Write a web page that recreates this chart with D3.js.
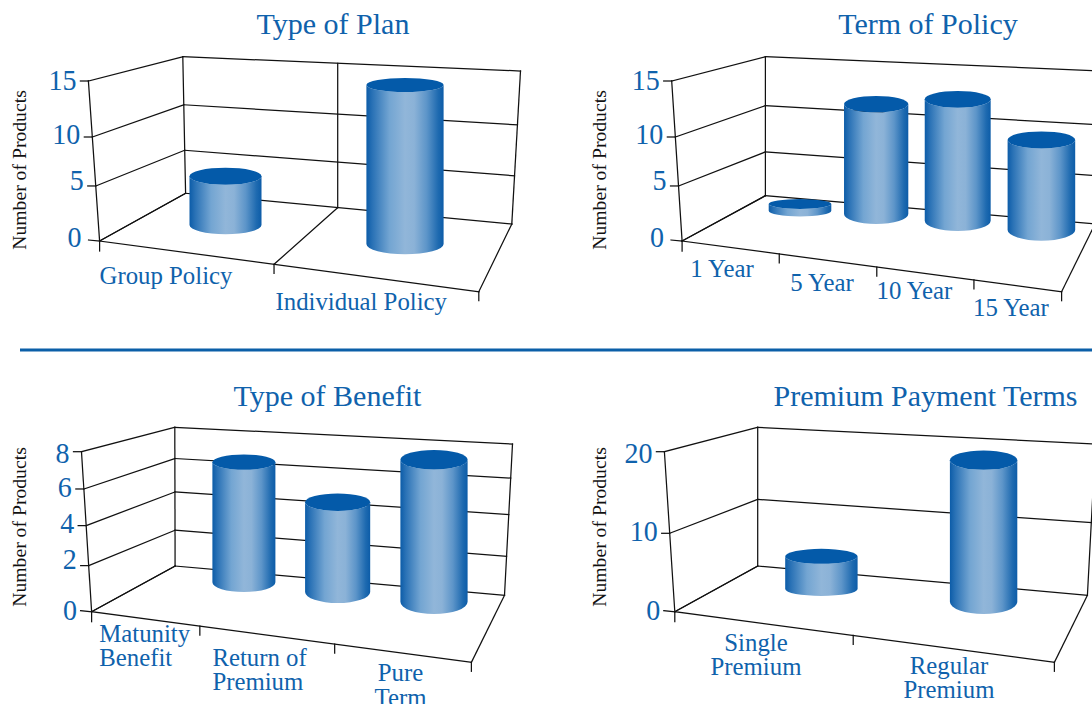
<!DOCTYPE html>
<html>
<head>
<meta charset="utf-8">
<script src="https://cdn.jsdelivr.net/npm/d3@7"></script>
<style>
html,body{margin:0;padding:0;background:#fff;overflow:hidden}
svg{display:block}
text{font-family:"Liberation Serif",serif}
</style>
</head>
<body>
<svg id="chart" width="1092" height="704"></svg>
<script>
// ---- data ----
const planCategories = [["Group Policy"], ["Individual Policy"]];
const planValues = [5, 15];
const planTicks = [0, 5, 10, 15];

const termCategories = [["1 Year"], ["5 Year"], ["10 Year"], ["15 Year"]];
const termValues = [0.7, 11, 12, 9];
const termTicks = [0, 5, 10, 15];

const benefitCategories = [["Matunity", "Benefit"], ["Return of", "Premium"], ["Pure", "Term"]];
const benefitValues = [6, 4.3, 7];
const benefitTicks = [0, 2, 4, 6, 8];

const paymentCategories = [["Single", "Premium"], ["Regular", "Premium"]];
const paymentValues = [4, 18];
const paymentTicks = [0, 10, 20];

const yAxisTitle = "Number of Products";

// ---- layout (projection of each 3-D box, separate from the data) ----
const BLUE = "#0f62ac", CAP = "#045aa9", INK = "#111";
const panels = [
  { title: "Type of Plan", titleX: 333, titleY: 34, categories: planCategories, values: planValues, ticks: planTicks,
    fracs: [0, .315, .648, 1], leftFracs: [0, .344, .65, 1], tickDy: [6, 4.5, 6.5, 9], zeroGap: 18,
    FLT: [88.4, 81], FLB: [99.6, 241], BLT: [182.8, 56.7], BLB: [185.6, 193.3],
    BRT: [520.5, 71], BRB: [511.8, 224], FRB: [478.8, 291.7], floorTicks: [.46], divider: 337.7,
    barX: [225.5, 405], barBase: [225, 244], expX: 1, expY: 1, rx: [36, 38.6], ryBase: [9.3, 10.3], ryTop: [8.5, 7], full: [155, 159],
    labelX: [99.5, 275.5], labelY: [283.5, 309.5], anchor: ["start", "start"], yTitleX: 26, yTitleY: 170 },
  { title: "Term of Policy", titleX: 928, titleY: 34, categories: termCategories, values: termValues, ticks: termTicks,
    fracs: [0, .315, .648, 1], leftFracs: [0, .344, .65, 1], tickDy: [6, 4.5, 6.5, 9], zeroGap: 18,
    FLT: [671.7, 81], FLB: [682.1, 241], BLT: [765.4, 56.7], BLB: [765.4, 195.7],
    BRT: [1103.5, 71], BRB: [1095, 224], FRB: [1061.6, 291.7], floorTicks: [.256, .513, .769],
    barX: [800, 1041.4], barBase: [210.7, 230], expX: 1.05, expY: 1.6, rx: [31.3, 33.8], ryBase: [9.5, 10.7], ryTop: [8, 8.5], full: [152, 155],
    labelX: [722, 822, 914.5, 1011], labelY: [276.5, 291, 298.5, 316], anchor: ["middle", "middle", "middle", "middle"], yTitleX: 606, yTitleY: 170 },
  { title: "Type of Benefit", titleX: 327.5, titleY: 405.5, categories: benefitCategories, values: benefitValues, ticks: benefitTicks,
    fracs: [0, .258, .534, .775, 1], leftFracs: [0, .288, .538, .767, 1], tickDy: [8.5, 3, 7.5, 7.7, 11], zeroGap: 14.5,
    FLT: [81.5, 451.7], FLB: [91.6, 611.7], BLT: [174.8, 427.3], BLB: [175.1, 566],
    BRT: [512.5, 444], BRB: [504.5, 595.3], FRB: [471.4, 662.3], floorTicks: [.285, .64],
    barX: [243.9, 434], barBase: [582.3, 601.7], expX: 1.02, expY: 1, rx: [31.5, 33.6], ryBase: [9.7, 12.3], ryTop: [7.7, 9.7], full: [155, 160],
    labelX: [99.2, 212.4, 400.5], labelY: [641.5, 665.5, 681.2], anchor: ["start", "start", "middle"], yTitleX: 26, yTitleY: 527 },
  { title: "Premium Payment Terms", titleX: 925.5, titleY: 405.5, categories: paymentCategories, values: paymentValues, ticks: paymentTicks,
    fracs: [0, .48, 1], leftFracs: [0, .49, 1], tickDy: [8.5, 8, 11], zeroGap: 14.5,
    FLT: [664.4, 451.7], FLB: [674.8, 611.7], BLT: [757.7, 427.3], BLB: [757.7, 566],
    BRT: [1095.5, 444], BRB: [1087.4, 595.3], FRB: [1054.4, 662.3], floorTicks: [.47],
    barX: [821.4, 983.6], barBase: [589, 601.7], expX: 1, expY: 1, rx: [36.2, 33.7], ryBase: [6.9, 12.3], ryTop: [7.5, 9.7], full: [170, 158],
    labelX: [756, 949], labelY: [650.5, 673.8], anchor: ["middle", "middle"], yTitleX: 606, yTitleY: 527 }
];

// ---- drawing ----
const svg = d3.select("#chart");
const defs = svg.append("defs");
const grad = defs.append("linearGradient").attr("id", "cyl").attr("x1", 0).attr("x2", 1).attr("y1", 0).attr("y2", 0);
[[0, "#0c5ca8"], [.08, "#2a72b6"], [.3, "#73a5d2"], [.5, "#91b6d9"], [.62, "#8bb2d7"], [.78, "#5d95c9"], [.93, "#1e6ab0"], [1, "#0c5ca8"]]
  .forEach(([o, c]) => grad.append("stop").attr("offset", o).attr("stop-color", c));

const lerp = (a, b, t) => [a[0] + (b[0] - a[0]) * t, a[1] + (b[1] - a[1]) * t];
const segment = (g, a, b) => g.append("line")
  .attr("x1", a[0]).attr("y1", a[1]).attr("x2", b[0]).attr("y2", b[1])
  .attr("stroke", INK).attr("stroke-width", 1.25).attr("stroke-linecap", "square");

panels.forEach(p => {
  const g = svg.append("g");
  const yFrac = d3.scaleLinear().domain(p.ticks).range(p.fracs);
  const yLeft = d3.scaleLinear().domain(p.ticks).range(p.leftFracs);

  // walls, grid and ticks
  p.ticks.forEach((v, i) => {
    const t = yFrac(v);
    const fl = lerp(p.FLB, p.FLT, yLeft(v)), bl = lerp(p.BLB, p.BLT, t), br = lerp(p.BRB, p.BRT, t);
    const isZero = v === 0;
    segment(g, [fl[0] - (isZero ? 11 : 8), fl[1] - (isZero ? 1 : 0)], fl);
    segment(g, fl, bl);
    segment(g, bl, br);
    g.append("text").attr("x", fl[0] - (isZero ? p.zeroGap : 12)).attr("y", fl[1] + p.tickDy[i])
      .attr("text-anchor", "end").attr("font-size", 30).attr("fill", BLUE)
      .attr("textLength", String(v).length * 14).attr("lengthAdjust", "spacingAndGlyphs").text(v);
  });
  segment(g, p.FLT, p.FLB);
  segment(g, p.BLT, p.BLB);
  segment(g, p.BRT, p.BRB);
  segment(g, p.FLB, p.BLB);
  segment(g, p.FLB, p.FRB);
  segment(g, p.FRB, p.BRB);
  segment(g, p.FLB, [p.FLB[0], p.FLB[1] + 10]);
  segment(g, p.FRB, [p.FRB[0], p.FRB[1] + 9]);
  p.floorTicks.forEach(f => {
    const pt = lerp(p.FLB, p.FRB, f);
    segment(g, pt, [pt[0], pt[1] + 9]);
    if (p.divider) {
      const backY = p.BLB[1] + (p.BRB[1] - p.BLB[1]) * (p.divider - p.BLB[0]) / (p.BRB[0] - p.BLB[0]);
      const topY = p.BLT[1] + (p.BRT[1] - p.BLT[1]) * (p.divider - p.BLT[0]) / (p.BRT[0] - p.BLT[0]);
      segment(g, pt, [p.divider, backY]);
      segment(g, [p.divider, backY], [p.divider, topY]);
    }
  });

  // cylinders
  const n = p.values.length - 1;
  const sx = d3.scalePow().exponent(p.expX).domain([0, n]).range(p.barX);
  const sb = d3.scalePow().exponent(p.expY).domain([0, n]).range(p.barBase);
  const srx = d3.scaleLinear().domain([0, n]).range(p.rx);
  const sRyB = d3.scaleLinear().domain([0, n]).range(p.ryBase);
  const sRyT = d3.scaleLinear().domain([0, n]).range(p.ryTop);
  const sFull = d3.scaleLinear().domain([0, n]).range(p.full);
  const thin = d3.scaleLinear().domain([0, .15]).range([.45, 1]).clamp(true);

  const bars = g.selectAll("g.bar").data(p.values).join("g").attr("class", "bar");
  bars.append("path")
    .attr("fill", "url(#cyl)")
    .attr("d", (v, i) => {
      const cx = sx(i), rx = srx(i), base = sb(i), top = base - yFrac(v) * sFull(i);
      const k = thin(yFrac(v)), ryB = sRyB(i) * k, ryT = sRyT(i) * k;
      return `M${cx - rx},${top}L${cx - rx},${base}A${rx},${ryB} 0 0 0 ${cx + rx},${base}L${cx + rx},${top}A${rx},${ryT} 0 0 1 ${cx - rx},${top}Z`;
    });
  bars.append("ellipse")
    .attr("fill", CAP)
    .attr("cx", (v, i) => sx(i))
    .attr("cy", (v, i) => sb(i) - yFrac(v) * sFull(i))
    .attr("rx", (v, i) => srx(i))
    .attr("ry", (v, i) => sRyT(i) * thin(yFrac(v)));

  // text
  g.append("text").attr("x", p.titleX).attr("y", p.titleY).attr("text-anchor", "middle")
    .attr("font-size", 30).attr("fill", BLUE).text(p.title);
  g.append("text").attr("transform", `translate(${p.yTitleX},${p.yTitleY}) rotate(-90)`)
    .attr("text-anchor", "middle").attr("font-size", 19.7).attr("fill", "#111").text(yAxisTitle);
  p.categories.forEach((lines, i) => {
    const t = g.append("text").attr("font-size", 24.8).attr("fill", BLUE).attr("text-anchor", p.anchor[i]);
    lines.forEach((l, j) => t.append("tspan").attr("x", p.labelX[i]).attr("y", p.labelY[i] + j * 24.5).text(l));
  });
});

// rule between the two rows
svg.append("line").attr("x1", 20).attr("x2", 1092).attr("y1", 350).attr("y2", 350)
  .attr("stroke", "#0b5fa8").attr("stroke-width", 3);
</script>
</body>
</html>
